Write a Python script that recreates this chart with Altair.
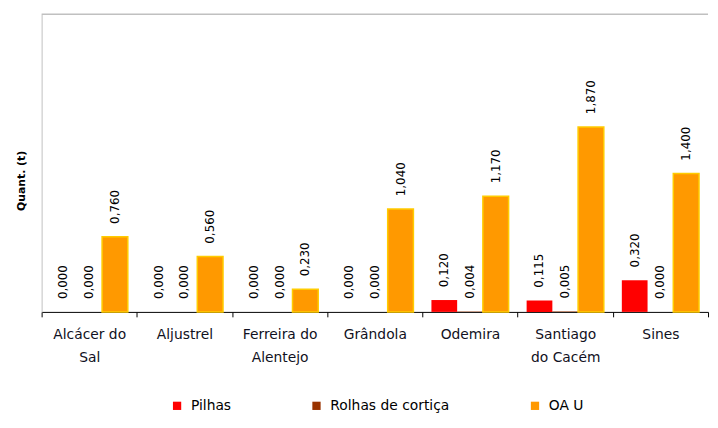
import altair as alt
import pandas as pd

municipios = ["Alcácer do|Sal", "Aljustrel", "Ferreira do|Alentejo", "Grândola",
              "Odemira", "Santiago|do Cacém", "Sines"]
series = ["Pilhas", "Rolhas de cortiça", "OA U"]
pilhas = [0.000, 0.000, 0.000, 0.000, 0.120, 0.115, 0.320]
rolhas = [0.000, 0.000, 0.000, 0.000, 0.004, 0.005, 0.000]
oau = [0.760, 0.560, 0.230, 1.040, 1.170, 1.870, 1.400]
fill_colors = ["#FF0000", "#993300", "#FF9900"]
stroke_colors = ["transparent", "transparent", "#FFCC00"]

rows = []
for s, vals in zip(series, [pilhas, rolhas, oau]):
    for m, v in zip(municipios, vals):
        rows.append({"mun": m, "serie": s, "valor": v,
                     "label": f"{v:.3f}".replace(".", ",")})
df = pd.DataFrame(rows)

FONT = "DejaVu Sans"
W, H = 674, 301

base = alt.Chart(df).encode(
    x=alt.X("mun:N", sort=municipios,
            scale=alt.Scale(paddingInner=0, paddingOuter=0),
            axis=alt.Axis(title=None, labelAngle=0, tickBand="extent",
                          domainColor="#000000", tickColor="#000000",
                          tickSize=5, labelFont=FONT, labelFontSize=14,
                          labelColor="#111122", labelPadding=11,
                          labelLineHeight=23,
                          labelExpr="split(datum.label, '|')")),
    xOffset=alt.XOffset("serie:N", sort=series,
                        scale=alt.Scale(paddingInner=0, paddingOuter=0.35)),
    y=alt.Y("valor:Q", scale=alt.Scale(domain=[0, 3.01], nice=False),
            axis=alt.Axis(title="Quant. (t)", labels=False, ticks=False,
                          grid=False, domainColor="#C0C0C0",
                          titleFont=FONT, titleFontSize=11,
                          titleFontWeight="bold", titleColor="#000000",
                          titlePadding=15, titleY=168)),
)

bars = base.mark_bar(strokeWidth=1.5).encode(
    fill=alt.Fill("serie:N", sort=series,
                  scale=alt.Scale(domain=series, range=fill_colors),
                  legend=alt.Legend(title=None, orient="none", direction="horizontal",
                                    legendX=130, legendY=389,
                                    symbolType="square", symbolSize=70,
                                    symbolStrokeWidth=0,
                                    labelFont=FONT, labelFontSize=14,
                                    labelColor="#000000", columnPadding=79,
                                    labelOffset=7)),
    stroke=alt.Stroke("serie:N", sort=series,
                      scale=alt.Scale(domain=series, range=stroke_colors),
                      legend=None),
)

labels = base.mark_text(angle=270, align="left", baseline="middle", dx=13,
                        font=FONT, fontSize=12, color="#000000").encode(
    text="label:N")

top_rule = alt.Chart(pd.DataFrame({"a": [0]})).mark_rule(
    color="#C0C0C0", strokeWidth=1.5).encode(
    x=alt.value(0), x2=alt.value(W), y=alt.value(0))

chart = alt.layer(top_rule, bars, labels).properties(
    width=W, height=H,
    autosize=alt.AutoSizeParams(type="none"),
    padding={"left": 34, "top": 4, "right": 2, "bottom": 110},
).configure_view(stroke=None)

chart.save("out.html", embed_options={"renderer": "svg", "actions": False})
